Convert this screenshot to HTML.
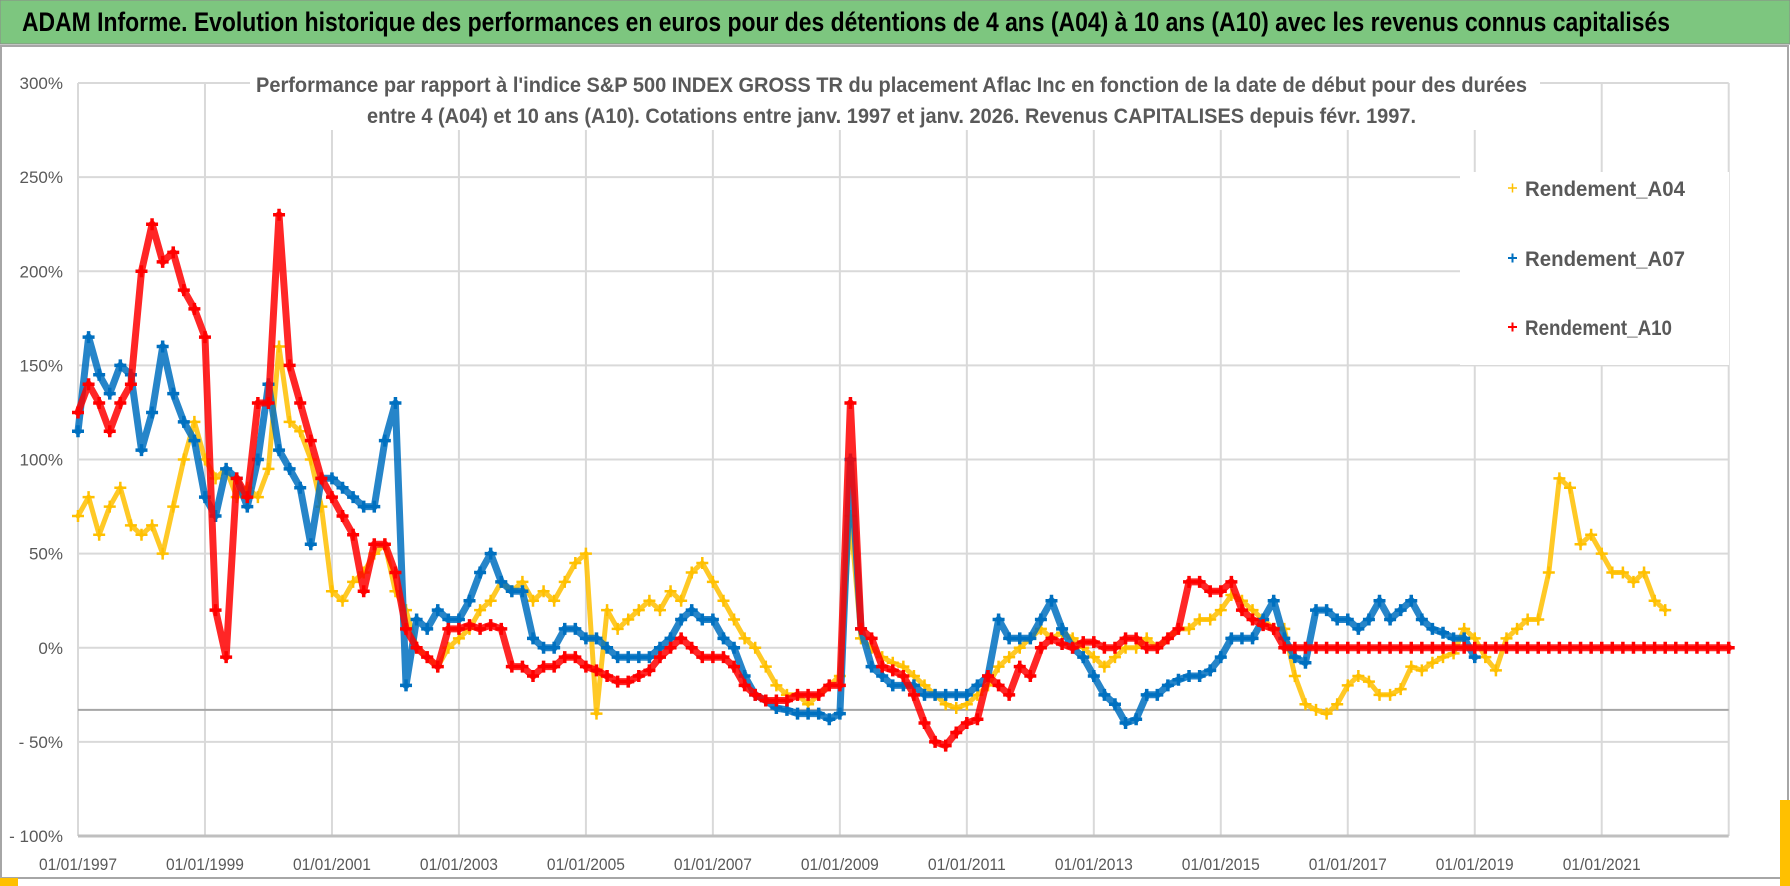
<!DOCTYPE html>
<html><head><meta charset="utf-8"><style>
html,body{margin:0;padding:0;background:#fff;}
svg{display:block;font-family:"Liberation Sans",sans-serif;}
</style></head><body>
<svg id="chart" width="1790" height="886" viewBox="0 0 1790 886" xmlns="http://www.w3.org/2000/svg">
<rect x="0" y="0" width="1790" height="886" fill="#fff"/>
<rect x="0" y="0" width="1790" height="44" fill="#7dc67f" stroke="#8a8a8a" stroke-width="1"/>
<text x="22" y="31" font-size="27" font-weight="bold" fill="#000" textLength="1648" lengthAdjust="spacingAndGlyphs">ADAM Informe. Evolution historique des performances en euros pour des détentions de 4 ans (A04) à 10 ans (A10) avec les revenus connus capitalisés</text>
<rect x="1" y="46" width="1787" height="832" fill="none" stroke="#a6a6a6" stroke-width="2"/>
<g id="grid"></g>
<g id="series"></g>
<rect x="250" y="66" width="1290" height="64" fill="#fff"/>
<text x="256" y="92" font-size="21" font-weight="bold" fill="#595959" textLength="1271" lengthAdjust="spacingAndGlyphs">Performance par rapport à l'indice S&amp;P 500 INDEX GROSS TR  du placement Aflac Inc en fonction de la date de début pour des durées</text>
<text x="367" y="123" font-size="21" font-weight="bold" fill="#595959" textLength="1049" lengthAdjust="spacingAndGlyphs">entre 4 (A04) et 10 ans (A10).  Cotations entre janv. 1997 et janv. 2026. Revenus CAPITALISES depuis févr. 1997.</text>
<g>
<rect x="1460" y="172" width="269" height="193" fill="#fff"/>
<g><path d="M1508 188h9M1512.5 183.5v9" stroke="#ffc000" stroke-width="1.5"/><text x="1525" y="196" font-size="21" font-weight="bold" fill="#595959" textLength="160" lengthAdjust="spacingAndGlyphs">Rendement_A04</text></g>
<g><path d="M1508 258h9M1512.5 253.5v9" stroke="#0070c0" stroke-width="2"/><text x="1525" y="266" font-size="21" font-weight="bold" fill="#595959" textLength="160" lengthAdjust="spacingAndGlyphs">Rendement_A07</text></g>
<g><path d="M1508 327h9M1512.5 322.5v9" stroke="#ff0000" stroke-width="2"/><text x="1525" y="335" font-size="21" font-weight="bold" fill="#595959" textLength="147" lengthAdjust="spacingAndGlyphs">Rendement_A10</text></g>
</g>
<rect x="0" y="878" width="18" height="8" fill="#ffc000"/>
<rect x="1780" y="800" width="10" height="86" fill="#ffc000"/>
</svg>
<script>
const startYear = 1997;
const stepYears = 1/6;
const yTicks = [300, 250, 200, 150, 100, 50, 0, -50, -100];
const yTickLabels = ["300%","250%","200%","150%","100%","50%","0%","- 50%","- 100%"];
const xTickYears = [1997,1999,2001,2003,2005,2007,2009,2011,2013,2015,2017,2019,2021];
const xTickLabels = ["01/01/1997","01/01/1999","01/01/2001","01/01/2003","01/01/2005","01/01/2007","01/01/2009","01/01/2011","01/01/2013","01/01/2015","01/01/2017","01/01/2019","01/01/2021"];
const refLine = -33;
const a04 = [
70,80,60,75,85,65,
60,65,50,75,100,120,
100,90,95,80,85,80,
95,160,120,115,100,75,
30,25,35,40,50,55,
30,20,0,-5,-10,0,
5,10,20,25,35,30,
35,25,30,25,35,45,
50,-35,20,10,15,20,
25,20,30,25,40,45,
35,25,15,5,0,-10,
-20,-25,-25,-30,-25,-20,
-15,70,5,0,-5,-8,
-10,-15,-20,-25,-30,-32,
-30,-25,-20,-10,-5,0,
5,10,5,8,5,0,
-5,-10,-5,0,0,5,
0,5,10,10,15,15,
20,28,25,20,15,10,
10,-15,-30,-33,-35,-30,
-20,-15,-18,-25,-25,-22,
-10,-12,-8,-5,-3,10,
5,-5,-12,5,10,15,
15,40,90,85,55,60,
50,40,40,35,40,25,
20];
const a07 = [
115,165,145,135,150,145,
105,125,160,135,120,110,
80,70,95,90,75,100,
140,105,95,85,55,90,
90,85,80,75,75,110,
130,-20,15,10,20,15,
15,25,40,50,35,30,
30,5,0,0,10,10,
5,5,0,-5,-5,-5,
-5,0,5,15,20,15,
15,5,0,-15,-25,-28,
-32,-33,-35,-35,-35,-38,
-35,100,10,-10,-15,-20,
-20,-20,-25,-25,-25,-25,
-25,-20,-15,15,5,5,
5,15,25,10,0,-5,
-15,-25,-30,-40,-38,-25,
-25,-20,-17,-15,-15,-12,
-5,5,5,5,15,25,
5,-5,-8,20,20,15,
15,10,15,25,15,20,
25,15,10,8,5,5,
-5];
const a10 = [
125,140,130,115,130,140,
200,225,205,210,190,180,
165,20,-5,90,80,130,
130,230,150,130,110,90,
80,70,60,30,55,55,
40,10,0,-5,-10,10,
10,12,10,12,10,-10,
-10,-15,-10,-10,-5,-5,
-10,-12,-15,-18,-18,-15,
-12,-5,0,5,0,-5,
-5,-5,-10,-20,-25,-28,
-28,-28,-25,-25,-25,-20,
-20,130,10,5,-10,-12,
-15,-25,-40,-50,-52,-45,
-40,-38,-15,-20,-25,-10,
-15,0,5,2,0,3,
3,0,0,5,5,0,
0,5,10,35,35,30,
30,35,20,15,12,10,
0,0,0,0,0,0,
0,0,0,0,0,0,
0,0,0,0,0,0,
0,0,0,0,0,0,
0,0,0,0,0,0,
0,0,0,0,0,0,
0,0,0,0,0,0,
0];

const NS = "http://www.w3.org/2000/svg";
const X0 = 78, X1 = 1728.7, Y300 = 83, Ym100 = 836;
const xMin = 1997, xMax = 2023, yMin = -100, yMax = 300;
function xs(yr){ return X0 + (yr - xMin) / (xMax - xMin) * (X1 - X0); }
function ys(v){ return Ym100 - (v - yMin) / (yMax - yMin) * (Ym100 - Y300); }
function mk(tag, attrs, parent){ const e = document.createElementNS(NS, tag); for (const k in attrs) e.setAttribute(k, attrs[k]); parent.appendChild(e); return e; }

const grid = document.getElementById('grid');
for (let yr = 1997; yr <= 2023; yr += 2) {
  const gl = mk('line', {x1: xs(yr), x2: xs(yr), y1: Y300, y2: Ym100, stroke: '#d9d9d9', 'stroke-width': 2}, grid);
  
  
}
yTicks.forEach((v, i) => {
  const gl = mk('line', {x1: X0, x2: X1, y1: ys(v), y2: ys(v), stroke: v === -100 ? '#bfbfbf' : '#d9d9d9', 'stroke-width': v === -100 ? 3 : 2}, grid);
  
  
  const t = mk('text', {x: 63, y: ys(v) + 6, 'text-anchor': 'end', 'font-size': 17, fill: '#595959'}, grid);
  
  
  t.textContent = yTickLabels[i];
});
const rl = mk('line', {x1: X0, x2: X1, y1: ys(refLine), y2: ys(refLine), stroke: '#a6a6a6', 'stroke-width': 2}, grid);


xTickYears.forEach((yr, i) => {
  const t = mk('text', {x: xs(yr), y: 870, 'text-anchor': 'middle', 'font-size': 17, fill: '#595959', textLength: 78, lengthAdjust: 'spacingAndGlyphs'}, grid);
  
  
  t.textContent = xTickLabels[i];
});

const series = document.getElementById('series');
function drawSeries(vals, color, sw, bandW, name) {
  const g = mk('g', {stroke: color, 'stroke-width': sw, fill: 'none'}, series);
  
  
  const pts = vals.map((v, i) => xs(startYear + i * stepYears).toFixed(1) + ',' + ys(v).toFixed(1)).join(' ');
  const band = mk('polyline', {points: pts, 'stroke-width': bandW, 'stroke-linejoin': 'round', 'stroke-linecap': 'round', opacity: 0.85}, g);
  
  
  vals.forEach((v, i) => {
    const cx = xs(startYear + i * stepYears), cy = ys(v);
    const p = mk('path', {d: `M${cx-6} ${cy}h12M${cx} ${cy-6}v12`}, g);
    
    
  });
}
drawSeries(a04, '#ffc000', 2.5, 5, 'series-a04');
drawSeries(a07, '#0070c0', 3.5, 7, 'series-a07');
drawSeries(a10, '#ff0000', 3.5, 7, 'series-a10');
</script>
</body></html>
